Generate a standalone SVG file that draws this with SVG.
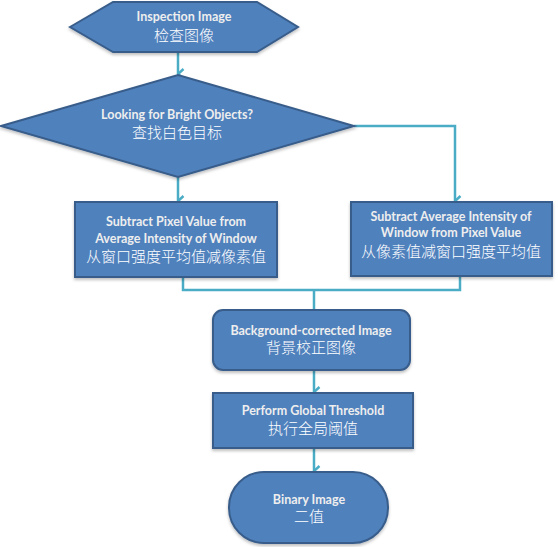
<svg xmlns="http://www.w3.org/2000/svg" width="558" height="547" viewBox="0 0 558 547">
<defs>
<style>
.shape{fill:#4F81BD;stroke:#385D8A;stroke-width:2;}
.conn{fill:none;stroke:#4BACC6;stroke-width:2.5;}
.en{font-family:Lato,"Liberation Sans",Arial,sans-serif;font-size:12.5px;font-weight:bold;fill:#EEEEEE;text-anchor:middle;}
.zh{font-family:"Noto Sans CJK SC","Noto Sans",sans-serif;font-size:15px;font-weight:300;fill:#FFFFFF;text-anchor:middle;}
</style>
<marker id="arr" markerUnits="userSpaceOnUse" markerWidth="14" markerHeight="10" viewBox="0 0 14 10" refX="7" refY="8.5" orient="auto">
<path d="M2,3 L7,8.5 L12,3" fill="none" stroke="#4BACC6" stroke-width="2.5" stroke-linejoin="miter"/>
</marker>
<filter id="sh" x="-10%" y="-10%" width="120%" height="130%">
<feDropShadow dx="0" dy="2" stdDeviation="1.5" flood-color="#000" flood-opacity="0.25"/>
</filter>
</defs>
<g id="connectors">
<path class="conn" d="M178,53 V74" marker-end="url(#arr)"/>
<path class="conn" d="M178,177 V201" marker-end="url(#arr)"/>
<path class="conn" d="M354,126 H455 V201" marker-end="url(#arr)"/>
<path class="conn" d="M183,277 V290 H460 V276"/>
<path class="conn" d="M314,290 V310"/>
<path class="conn" d="M314,370 V392" marker-end="url(#arr)"/>
<path class="conn" d="M314,448 V471" marker-end="url(#arr)"/>
</g>
<g id="node-inspection">
<polygon class="shape" filter="url(#sh)" points="70,27 113,2 257,2 298,27 257,52 113,52"/>
<text class="en" x="184" y="21">Inspection Image</text>
<text class="zh" x="184" y="41">检查图像</text>
</g>
<g id="node-decision">
<polygon class="shape" filter="url(#sh)" points="1,126 178,75 354,126 178,177"/>
<text class="en" x="177" y="119">Looking for Bright Objects?</text>
<text class="zh" x="177" y="138">查找白色目标</text>
</g>
<g id="node-left">
<rect class="shape" filter="url(#sh)" x="75" y="202" width="202" height="75"/>
<text class="en" x="176" y="226">Subtract Pixel Value from</text>
<text class="en" x="176" y="243">Average Intensity of Window</text>
<text class="zh" x="176" y="262">从窗口强度平均值减像素值</text>
</g>
<g id="node-right">
<rect class="shape" filter="url(#sh)" x="351" y="202" width="201" height="74"/>
<text class="en" x="451" y="221">Subtract Average Intensity of</text>
<text class="en" x="451" y="237">Window from Pixel Value</text>
<text class="zh" x="451" y="257">从像素值减窗口强度平均值</text>
</g>
<g id="node-background">
<rect class="shape" filter="url(#sh)" x="213" y="310" width="197" height="60" rx="10" ry="10"/>
<text class="en" x="311" y="335">Background-corrected Image</text>
<text class="zh" x="311" y="353">背景校正图像</text>
</g>
<g id="node-threshold">
<rect class="shape" filter="url(#sh)" x="213" y="393" width="200" height="55"/>
<text class="en" x="313" y="415">Perform Global Threshold</text>
<text class="zh" x="313" y="434">执行全局阈值</text>
</g>
<g id="node-binary">
<rect class="shape" filter="url(#sh)" x="229" y="472" width="159" height="71" rx="35" ry="35"/>
<text class="en" x="309" y="504">Binary Image</text>
<text class="zh" x="309" y="522">二值</text>
</g>
</svg>
